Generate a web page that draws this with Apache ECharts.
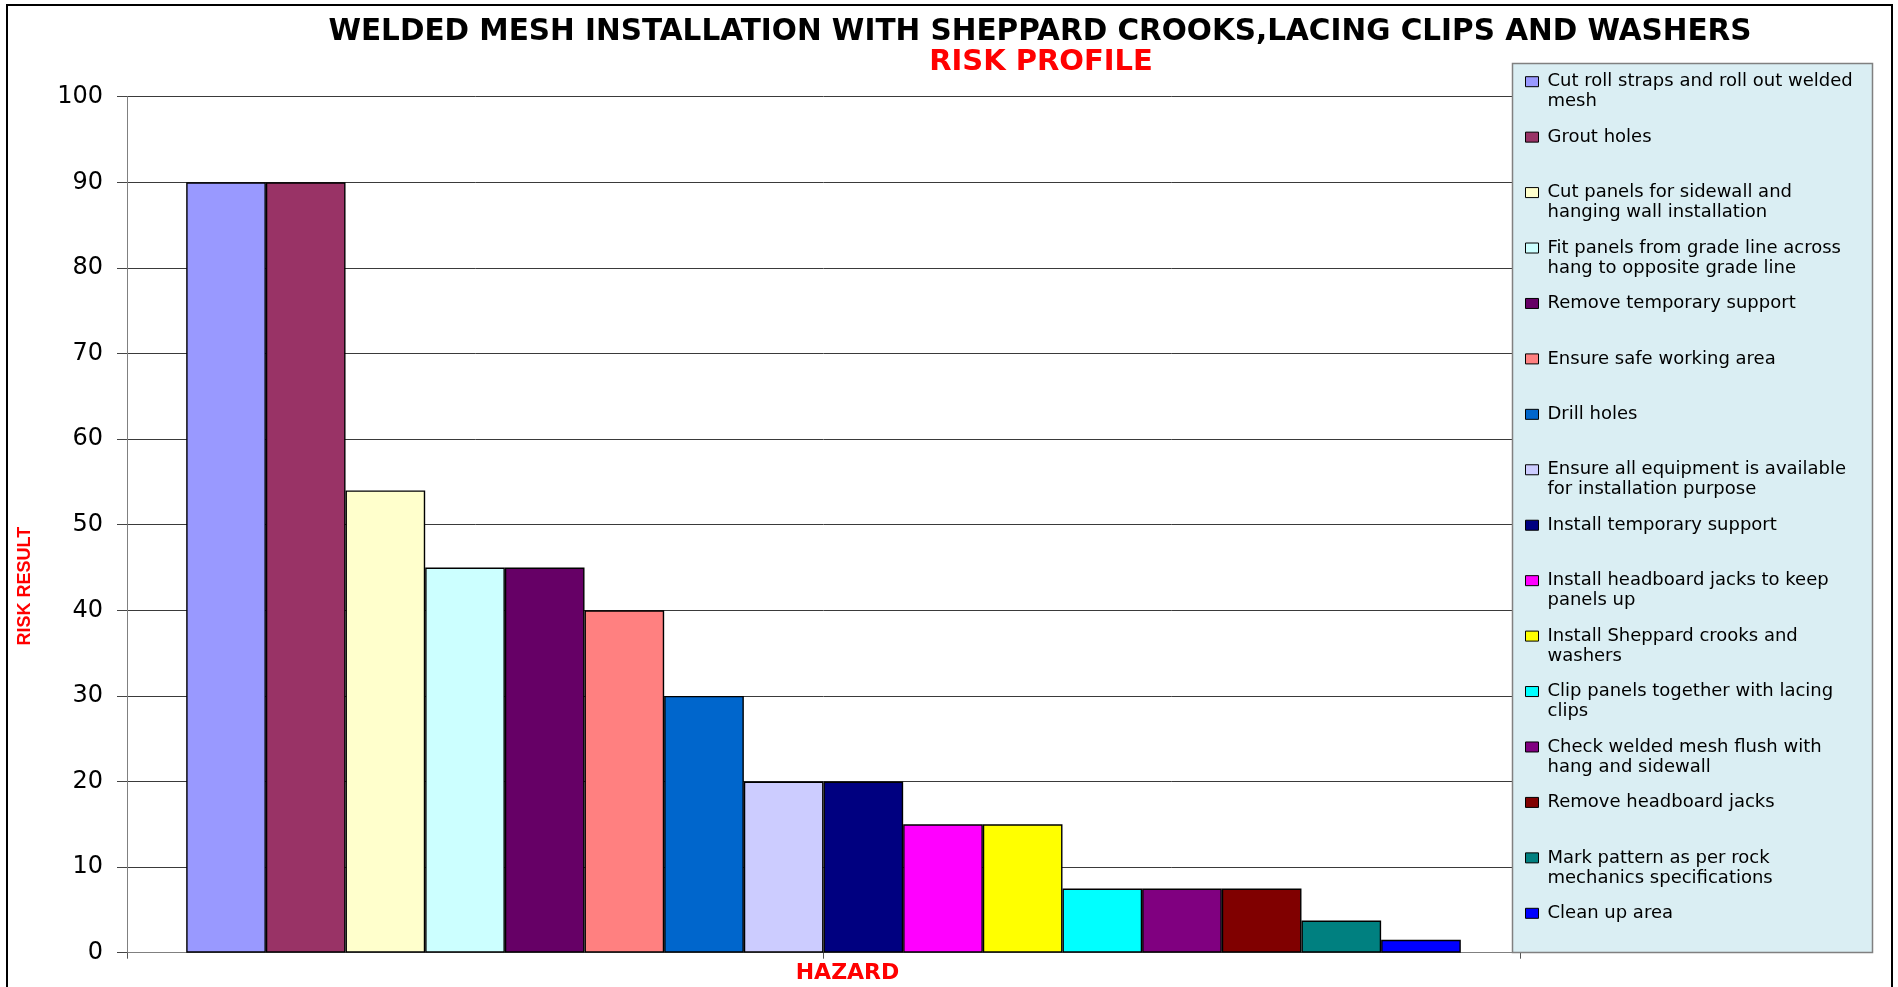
<!DOCTYPE html>
<html>
<head>
<meta charset="utf-8">
<script src="https://cdn.jsdelivr.net/npm/echarts@6/dist/echarts.min.js"></script>
<style>
html,body{margin:0;padding:0;background:#fff;}
#chart{width:1898px;height:987px;}
</style>
</head>
<body>
<div id="chart"></div>
<script>
// ---- DATA ----
const titleMain = 'WELDED MESH INSTALLATION WITH SHEPPARD CROOKS,LACING CLIPS AND WASHERS';
const titleSub = 'RISK PROFILE';
const xAxisTitle = 'HAZARD';
const yAxisTitle = 'RISK RESULT';
const xCategories = ['HAZARD'];
const hazards = [
  'Cut roll straps and roll out welded mesh',
  'Grout holes',
  'Cut panels for sidewall and hanging wall installation',
  'Fit panels from grade line across hang to opposite grade line',
  'Remove temporary support',
  'Ensure safe working area',
  'Drill holes',
  'Ensure all equipment is available for installation purpose',
  'Install temporary support',
  'Install headboard jacks to keep panels up',
  'Install Sheppard crooks and washers',
  'Clip panels together with lacing clips',
  'Check welded mesh flush with hang and sidewall',
  'Remove headboard jacks',
  'Mark pattern as per rock mechanics specifications',
  'Clean up area'
];
const legendLines = [
  ['Cut roll straps and roll out welded', 'mesh'],
  ['Grout holes'],
  ['Cut panels for sidewall and', 'hanging wall installation'],
  ['Fit panels from grade line across', 'hang to opposite grade line'],
  ['Remove temporary support'],
  ['Ensure safe working area'],
  ['Drill holes'],
  ['Ensure all equipment is available', 'for installation purpose'],
  ['Install temporary support'],
  ['Install headboard jacks to keep', 'panels up'],
  ['Install Sheppard crooks and', 'washers'],
  ['Clip panels together with lacing', 'clips'],
  ['Check welded mesh flush with', 'hang and sidewall'],
  ['Remove headboard jacks'],
  ['Mark pattern as per rock', 'mechanics specifications'],
  ['Clean up area']
];
const riskValues = [90, 90, 54, 45, 45, 40, 30, 20, 20, 15, 15, 7.5, 7.5, 7.5, 3.75, 1.5];
const yMin = 0, yMax = 100, yStep = 10;

// ---- STYLES ----
const barColors = ['#9999FF','#993366','#FFFFCC','#CCFFFF','#660066','#FF8080','#0066CC','#CCCCFF',
                   '#000080','#FF00FF','#FFFF00','#00FFFF','#800080','#800000','#008080','#0000FF'];

const chart = echarts.init(document.getElementById('chart'), null, {renderer: 'canvas'});

const series = hazards.map((name, i) => ({
  type: 'bar',
  name: name,
  xAxisIndex: 0,
  data: [riskValues[i]],
  barGap: '0%',
  barCategoryGap: '8.5%',
  itemStyle: {color: barColors[i], borderColor: '#000', borderWidth: 1.4}
}));

chart.setOption({
  animation: false,
  backgroundColor: '#fff',
  title: [
    {text: titleMain, left: 1040, top: 17, textAlign: 'center', padding: 0,
     textStyle: {fontFamily: 'DejaVu Sans', fontWeight: 'bold', fontSize: 29.5, color: '#000'}},
    {text: titleSub, left: 1041, top: 48, textAlign: 'center', padding: 0,
     textStyle: {fontFamily: 'DejaVu Sans', fontWeight: 'bold', fontSize: 29, color: '#FF0000'}}
  ],
  grid: {left: 127, right: 378, top: 96.7, bottom: 34.3, containLabel: false, outerBoundsMode: 'none'},
  legend: {
    orient: 'vertical', left: 1525, top: 51.7, padding: 0, itemGap: -4.56,
    itemWidth: 13, itemHeight: 10, icon: 'rect', selectedMode: false,
    itemStyle: {borderColor: '#000', borderWidth: 1},
    textStyle: {fontFamily: 'DejaVu Sans', fontSize: 18, lineHeight: 20, color: '#000', padding: [0, 0, 0, 4]},
    data: hazards,
    formatter: function (name) {
      const lines = legendLines[hazards.indexOf(name)];
      return lines.length === 2 ? '\n' + lines[0] + '\n' + lines[1] : '\n' + lines[0] + '\n';
    }
  },
  xAxis: [
    {type: 'category', data: xCategories, position: 'bottom',
     axisLine: {show: true, lineStyle: {color: '#808080', width: 1}},
     axisTick: {show: false}, axisLabel: {show: false}, splitLine: {show: false},
     name: xAxisTitle, nameLocation: 'middle', nameGap: 10,
     nameTextStyle: {fontFamily: 'DejaVu Sans', fontWeight: 'bold', fontSize: 22, color: '#FF0000', padding: [0, 0, 0, 48]}},
    {type: 'category', data: ['', ''], position: 'bottom',
     axisLine: {show: false}, axisTick: {show: true, length: 6, lineStyle: {color: '#555'}},
     axisLabel: {show: false}, splitLine: {show: false}}
  ],
  yAxis: {
    type: 'value', min: yMin, max: yMax, interval: yStep,
    axisLine: {show: true, lineStyle: {color: '#808080', width: 1}},
    axisTick: {show: true, length: 10, lineStyle: {color: '#444'}},
    axisLabel: {fontFamily: 'DejaVu Sans', fontSize: 24, color: '#000', margin: 24},
    splitLine: {show: true, lineStyle: {color: '#3a3a3a', width: 1}},
    name: yAxisTitle, nameLocation: 'middle', nameRotate: 90, nameGap: 93,
    nameTextStyle: {fontFamily: 'Liberation Sans', fontWeight: 'bold', fontSize: 18, color: '#FF0000', padding: [0, 123, 0, 0]}
  },
  graphic: [
    {type: 'rect', z: 3, silent: true,
     shape: {x: 1512.5, y: 63.5, width: 360, height: 889},
     style: {fill: '#DAEEF3', stroke: '#808080', lineWidth: 1.5}},
    {type: 'rect', z: 10, silent: true,
     shape: {x: 7, y: 5, width: 1885, height: 1010},
     style: {fill: 'none', stroke: '#000', lineWidth: 2}}
  ],
  series: series
});
</script>
</body>
</html>
